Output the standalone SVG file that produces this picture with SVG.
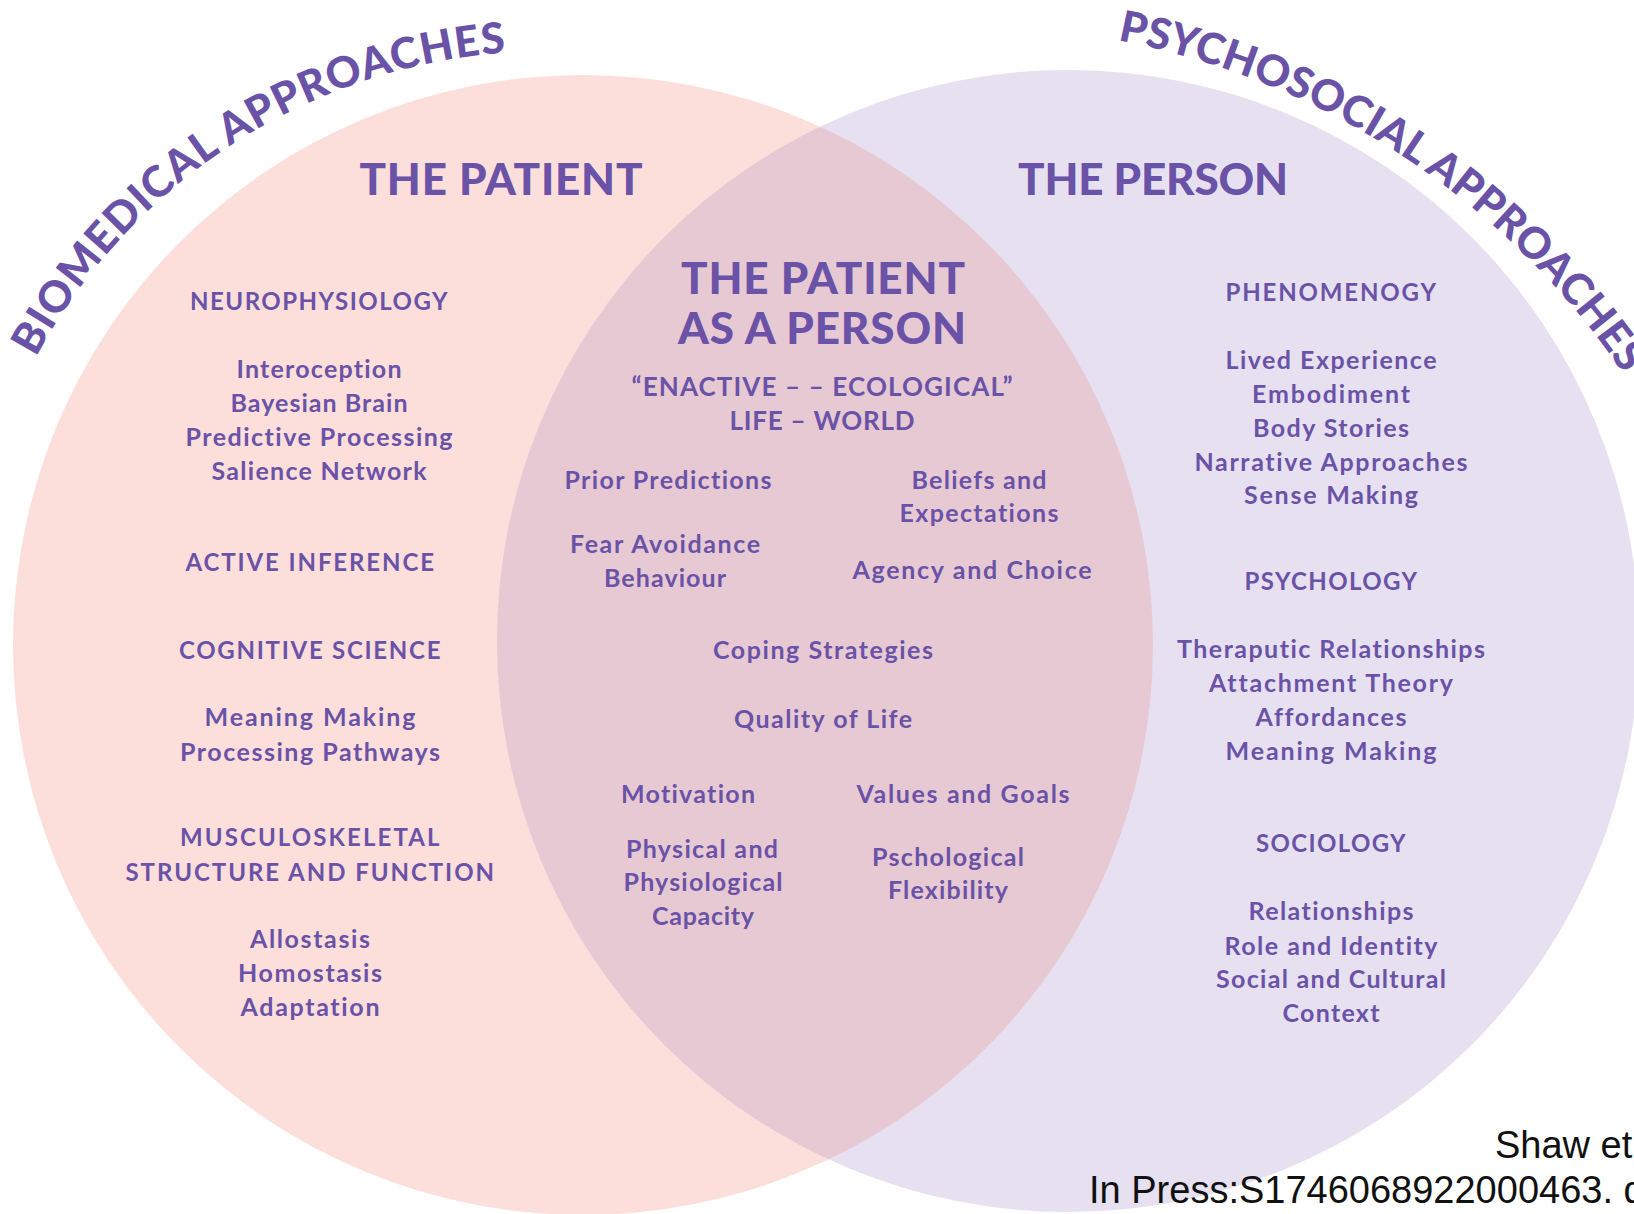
<svg xmlns="http://www.w3.org/2000/svg" width="1634" height="1214" viewBox="0 0 1634 1214">
<defs>
<style>
.t{font-family:Lato,"Noto Sans","DejaVu Sans",sans-serif;font-weight:700;fill:#6A52A7;text-anchor:middle;font-variant-ligatures:none;font-feature-settings:"liga" 0,"dlig" 0}
.ti{font-size:44px;font-weight:900}
.h{font-size:24px;letter-spacing:0.5px}
.b{font-size:25px}
.arc{font-family:Lato,"Noto Sans","DejaVu Sans",sans-serif;font-weight:900;fill:#6A52A7;font-size:43px;font-variant-ligatures:none}
.cap{font-family:"Liberation Sans",Arial,sans-serif;font-size:38px;fill:#111}
</style>
<clipPath id="clipL"><circle cx="583" cy="645" r="570"/></clipPath>
<path id="arcBio" d="M35.9,357.3 A583,583 0 0 1 600.3,53.2"/>
<path id="arcPsy" d="M1117.6,40.1 A794.5,794.5 0 0 1 1686.1,484.2"/>
</defs>
<rect width="1634" height="1214" fill="#FFFFFF"/>
<g id="circles">
<circle id="circle-patient" cx="583" cy="645" r="570" fill="#FCDEDB"/>
<circle id="circle-person" cx="1068" cy="641" r="571" fill="#E6E0F1"/>
<circle id="overlap" cx="1068" cy="641" r="571" fill="#E7C9D3" clip-path="url(#clipL)"/>
</g>
<g id="connectors"></g>
<g id="arc-labels">
<text class="arc"><textPath href="#arcBio" textLength="584">BIOMEDICAL APPROACHES</textPath></text>
<text class="arc"><textPath href="#arcPsy" textLength="622">PSYCHOSOCIAL APPROACHES</textPath></text>
</g>
<g id="title-patient"><text class="t ti" x="501" y="195" textLength="283">THE PATIENT</text></g>
<g id="title-person"><text class="t ti" x="1153" y="195" textLength="270">THE PERSON</text></g>
<g id="title-center">
<text class="t ti" x="823" y="294" textLength="284">THE PATIENT</text>
<text class="t ti" x="822" y="344" textLength="288">AS A PERSON</text>
<text class="t" style="font-size:26px" x="822" y="396" textLength="381">“ENACTIVE – – ECOLOGICAL”</text>
<text class="t" style="font-size:26px" x="822" y="430" textLength="185">LIFE – WORLD</text>
</g>
<g id="neurophysiology">
<text class="t h" x="319" y="310" textLength="258">NEUROPHYSIOLOGY</text>
<text class="t b" x="319" y="378" textLength="165">Interoception</text>
<text class="t b" x="319" y="412" textLength="177">Bayesian Brain</text>
<text class="t b" x="319" y="446" textLength="267">Predictive Processing</text>
<text class="t b" x="319" y="480" textLength="215">Salience Network</text>
</g>
<g id="active-inference"><text class="t h" x="310" y="571" textLength="249">ACTIVE INFERENCE</text></g>
<g id="cognitive-science">
<text class="t h" x="310" y="659" textLength="262">COGNITIVE SCIENCE</text>
<text class="t b" x="310" y="726" textLength="211">Meaning Making</text>
<text class="t b" x="310" y="761" textLength="260">Processing Pathways</text>
</g>
<g id="musculoskeletal">
<text class="t h" x="310" y="846" textLength="260">MUSCULOSKELETAL</text>
<text class="t h" x="310" y="881" textLength="369">STRUCTURE AND FUNCTION</text>
<text class="t b" x="310" y="948" textLength="120">Allostasis</text>
<text class="t b" x="310" y="982" textLength="144">Homostasis</text>
<text class="t b" x="310" y="1016" textLength="139">Adaptation</text>
</g>
<g id="phenomenology">
<text class="t h" x="1331" y="301" textLength="211">PHENOMENOGY</text>
<text class="t b" x="1331" y="369" textLength="211">Lived Experience</text>
<text class="t b" x="1331" y="403" textLength="158">Embodiment</text>
<text class="t b" x="1331" y="437" textLength="156">Body Stories</text>
<text class="t b" x="1331" y="471" textLength="273">Narrative Approaches</text>
<text class="t b" x="1331" y="504" textLength="174">Sense Making</text>
</g>
<g id="psychology">
<text class="t h" x="1331" y="590" textLength="173">PSYCHOLOGY</text>
<text class="t b" x="1331" y="658" textLength="308">Theraputic Relationships</text>
<text class="t b" x="1331" y="692" textLength="244">Attachment Theory</text>
<text class="t b" x="1331" y="726" textLength="151">Affordances</text>
<text class="t b" x="1331" y="760" textLength="211">Meaning Making</text>
</g>
<g id="sociology">
<text class="t h" x="1331" y="852" textLength="150">SOCIOLOGY</text>
<text class="t b" x="1331" y="920" textLength="165">Relationships</text>
<text class="t b" x="1331" y="955" textLength="213">Role and Identity</text>
<text class="t b" x="1331" y="988" textLength="230">Social and Cultural</text>
<text class="t b" x="1331" y="1022" textLength="97">Context</text>
</g>
<g id="center-items">
<text class="t b" x="668" y="489" textLength="207">Prior Predictions</text>
<text class="t b" x="979" y="489" textLength="135">Beliefs and</text>
<text class="t b" x="979" y="522" textLength="159">Expectations</text>
<text class="t b" x="665" y="553" textLength="190">Fear Avoidance</text>
<text class="t b" x="665" y="587" textLength="122">Behaviour</text>
<text class="t b" x="972" y="579" textLength="239">Agency and Choice</text>
<text class="t b" x="823" y="659" textLength="220">Coping Strategies</text>
<text class="t b" x="823" y="728" textLength="178">Quality of Life</text>
<text class="t b" x="688" y="803" textLength="134">Motivation</text>
<text class="t b" x="963" y="803" textLength="213">Values and Goals</text>
<text class="t b" x="702" y="858" textLength="152">Physical and</text>
<text class="t b" x="703" y="891" textLength="159">Physiological</text>
<text class="t b" x="703" y="925" textLength="102">Capacity</text>
<text class="t b" x="948" y="866" textLength="152">Pschological</text>
<text class="t b" x="948" y="899" textLength="120">Flexibility</text>
</g>
<g id="citation">
<text class="cap" x="1495" y="1158">Shaw et</text>
<text class="cap" x="1089" y="1203">In Press:S1746068922000463. d</text>
</g>
</svg>
